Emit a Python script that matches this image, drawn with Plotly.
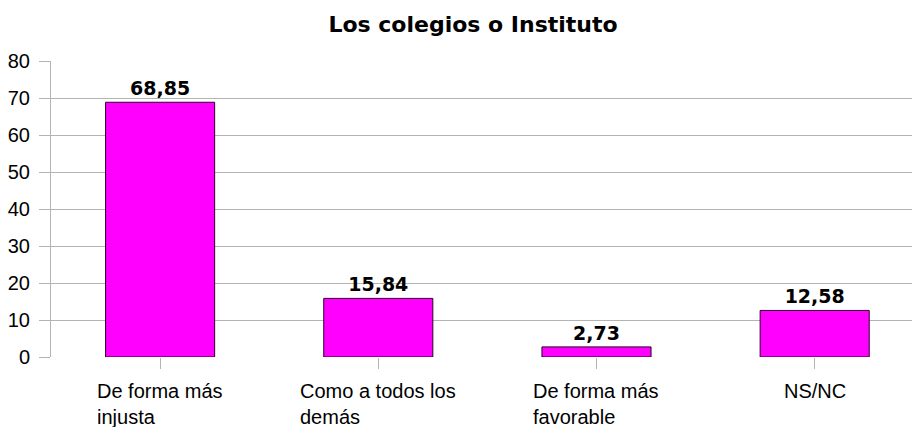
import plotly.graph_objects as go

categories = ["De forma más injusta", "Como a todos los demás", "De forma más favorable", "NS/NC"]
label_lines = ["De forma más<br>injusta", "Como a todos los<br>demás", "De forma más<br>favorable", "NS/NC"]
values = [68.85, 15.84, 2.73, 12.58]
y_ticks = [0, 10, 20, 30, 40, 50, 60, 70, 80]
title = "Los colegios o Instituto"

grid = "#b3b3b3"

fig = go.Figure()
fig.add_trace(go.Bar(
    x=categories, y=values, width=0.5,
    marker=dict(color="#ff00ff", line=dict(color="#2a002a", width=1)),
    texttemplate="%{y:.2f}", textposition="outside",
    textfont=dict(family="DejaVu Sans", size=19, color="#000000", weight="bold"),
    cliponaxis=False, hoverinfo="skip",
))

for c, lab in zip(categories, label_lines):
    fig.add_annotation(x=c, y=0, xref="x", yref="y", text=lab, showarrow=False,
                       xanchor="center", yanchor="top", align="left", yshift=-21,
                       font=dict(family="Liberation Sans", size=20, color="#000000"))

fig.update_layout(
    width=912, height=427,
    margin=dict(l=51, r=0, t=61, b=70, autoexpand=False),
    paper_bgcolor="white", plot_bgcolor="white",
    separators=",.",
    showlegend=False,
    title=dict(text="<b>" + title + "</b>", x=473/912, xanchor="center", y=1 - 32/427, yanchor="bottom",
               font=dict(family="DejaVu Sans", size=22, color="#000000")),
    xaxis=dict(type="category", range=[-0.5, 3.446], showgrid=False, showline=False,
               zeroline=False, ticks="outside", ticklen=11, tickcolor=grid,
               showticklabels=False, tickmode="array", tickvals=categories, automargin=False),
    yaxis=dict(range=[0, 80], tickvals=y_ticks, showgrid=True, gridcolor=grid, gridwidth=1,
               showline=True, linecolor=grid, linewidth=1, zeroline=False,
               ticks="outside", ticklen=11, tickcolor=grid, ticklabelstandoff=5, automargin=False,
               tickfont=dict(family="Liberation Sans", size=20, color="#000000")),
)

fig.write_html("out.html", config={"displayModeBar": False},
               post_script="document.body.style.margin='0';")
